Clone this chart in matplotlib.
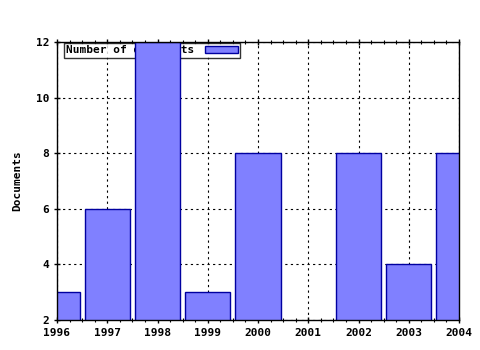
import matplotlib
matplotlib.use('Agg')
import matplotlib.pyplot as plt
from matplotlib.ticker import MultipleLocator

# documents per year
years = [1996, 1997, 1998, 1999, 2000, 2001, 2002, 2003, 2004]
docs = [3, 6, 12, 3, 8, 0, 8, 4, 8]
year_labels = [str(y) for y in years]
y_ticks = [2, 4, 6, 8, 10, 12]

plt.rcParams['font.family'] = 'DejaVu Sans Mono'
plt.rcParams['font.weight'] = 'bold'

fig = plt.figure(figsize=(4.8, 3.5), dpi=100)
ax = fig.add_axes([57/480, 1 - 320/350, (459 - 57)/480, (320 - 42)/350])

ax.bar(years, docs, width=0.9, color='#8080ff', edgecolor='#0000a0',
       linewidth=1, label='Number of documents', zorder=3)

ax.set_xlim(1996, 2004)
ax.set_ylim(2, 12)
ax.set_xticks(years)
ax.set_xticklabels(year_labels, fontsize=8, fontweight='bold')
ax.set_yticks(y_ticks)
ax.set_yticklabels([str(t) for t in y_ticks], fontsize=8, fontweight='bold')
ax.xaxis.set_minor_locator(MultipleLocator(0.25))
ax.tick_params(which='major', direction='inout', length=5, width=1,
               top=True, right=False, pad=3)
ax.tick_params(which='minor', direction='inout', length=3, width=0.8,
               top=True, bottom=True)

ax.grid(True, which='major', color='black', linestyle=(0, (2, 3)),
        linewidth=0.8, zorder=1)
ax.set_axisbelow(True)
ax.set_ylabel('Documents', fontsize=8, fontweight='bold', labelpad=10)

leg = ax.legend(loc='upper left', bbox_to_anchor=(0.015, 1.0), fontsize=8,
                frameon=True, fancybox=False, borderpad=0.2,
                handlelength=3.0, handleheight=0.55, handletextpad=0.9,
                markerfirst=False, borderaxespad=0.1)
leg.get_frame().set_edgecolor('black')
leg.get_frame().set_linewidth(1)
leg.set_zorder(2)
for t in leg.get_texts():
    t.set_fontweight('bold')

for s in ax.spines.values():
    s.set_linewidth(1)
    s.set_zorder(4)

plt.savefig('out.png', dpi=100)
